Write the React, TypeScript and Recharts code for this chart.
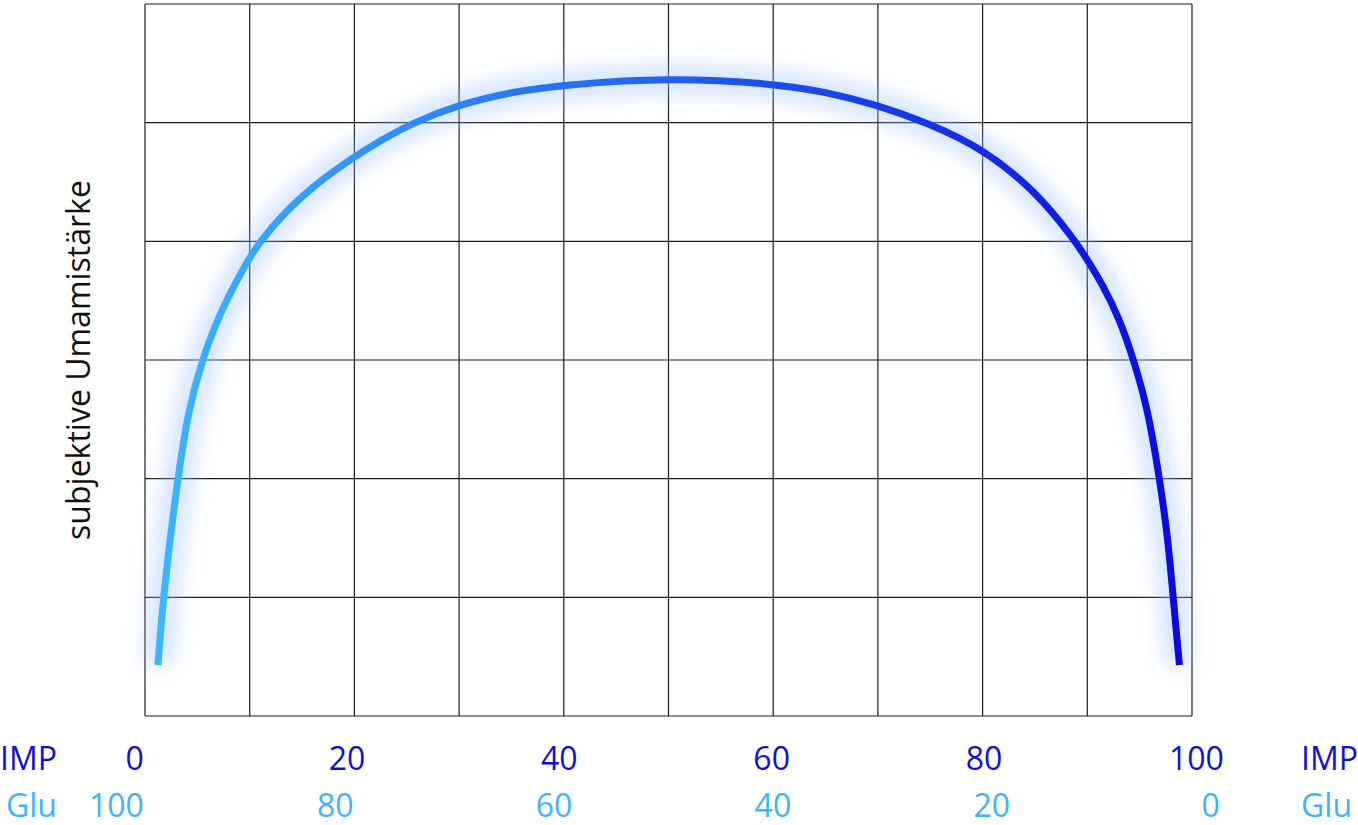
import { LineChart, Line, XAxis, YAxis, ReferenceLine } from 'recharts'

// IMP share (%) along the x axis, subjective umami strength (grid rows) along y
const IMP_PERCENT = [1.24, 1.72, 3.09, 4.14, 5.48, 7.16, 9.55, 10.82, 13.37, 16.55, 19.96, 22.3, 25.6, 29.9, 35.0, 40.1, 50, 60, 65, 69.9, 74.7, 80.1, 85.2, 88.7, 89.9, 91.5, 93.1, 94.4, 95.8, 96.9, 97.7, 98.2, 98.8]
const UMAMI = [0.43, 1.0, 1.99, 2.58, 3.01, 3.4, 3.8, 3.98, 4.25, 4.5, 4.71, 4.84, 5.0, 5.15, 5.26, 5.32, 5.38, 5.33, 5.26, 5.15, 5.0, 4.78, 4.41, 4.02, 3.86, 3.63, 3.34, 3.01, 2.58, 2.0, 1.5, 1.0, 0.43]

const IMP_TICKS = [0, 20, 40, 60, 80, 100]
const GLU_TICKS = [100, 80, 60, 40, 20, 0]
const GRID_X = [0, 10, 20, 30, 40, 50, 60, 70, 80, 90, 100]
const GRID_Y = [0, 1, 2, 3, 4, 5, 6]

const data = IMP_PERCENT.map((imp, i) => ({ imp, umami: UMAMI[i] }))

const FONT = '"Open Sans", "Noto Sans", sans-serif'
const DARK = '#0f0fdc'
const LIGHT = '#3db4ff'
const PLOT_CX = 668.5

function BottomTick(props: any) {
  const { x, y, index } = props
  const impX = PLOT_CX + (x - PLOT_CX) * 1.014 - 3
  const gluX = PLOT_CX + (x - PLOT_CX) * 1.045 - 5
  return (
    <g>
      <text x={impX} y={y + 54} textAnchor="middle" fontSize={32} fill={DARK} fontFamily={FONT}>
        {IMP_TICKS[index]}
      </text>
      <text x={gluX} y={y + 101} textAnchor="middle" fontSize={32} fill={LIGHT} fontFamily={FONT}>
        {GLU_TICKS[index]}
      </text>
    </g>
  )
}

const sideLabel = (color: string, top: number, side: 'left' | 'right', pos: number) => ({
  position: 'absolute' as const,
  top,
  [side]: pos,
  color,
  fontSize: 32,
  fontFamily: FONT,
  lineHeight: '32px',
})

export default function App() {
  return (
    <div style={{ position: 'absolute', left: 0, top: 0, width: 1358, height: 825, background: '#fff', overflow: 'hidden' }}>
      <LineChart width={1358} height={825} data={data} margin={{ top: 4, right: 166, left: 145, bottom: 0 }}>
        <defs>
          <linearGradient id="curveGrad" x1="0" y1="0" x2="1" y2="0">
            <stop offset="0%" stopColor="#3cb6ff" />
            <stop offset="50%" stopColor="#2160ee" />
            <stop offset="100%" stopColor="#0a0ade" />
          </linearGradient>
          <filter id="glow" x="-20%" y="-20%" width="140%" height="140%">
            <feGaussianBlur stdDeviation="10" />
          </filter>
        </defs>
        <XAxis
          dataKey="imp"
          type="number"
          domain={[0, 100]}
          ticks={IMP_TICKS}
          height={109}
          tickSize={0}
          tickMargin={0}
          axisLine={false}
          tickLine={false}
          tick={<BottomTick />}
          interval={0}
        />
        <YAxis type="number" domain={[0, 6]} hide />
        {GRID_X.map(v => (
          <ReferenceLine key={'x' + v} x={v} stroke="#1c1c1c" strokeWidth={1.2} />
        ))}
        {GRID_Y.map(v => (
          <ReferenceLine key={'y' + v} y={v} stroke="#1c1c1c" strokeWidth={1.2} />
        ))}
        <Line
          type="basis"
          dataKey="umami"
          stroke="#9cc2ff"
          strokeWidth={28}
          strokeOpacity={0.45}
          dot={false}
          activeDot={false}
          filter="url(#glow)"
          isAnimationActive={false}
        />
        <Line
          type="basis"
          dataKey="umami"
          stroke="url(#curveGrad)"
          strokeWidth={7}
          dot={false}
          activeDot={false}
          isAnimationActive={false}
        />
      </LineChart>

      <div style={sideLabel(DARK, 742, 'left', 0)}>IMP</div>
      <div style={sideLabel(LIGHT, 789, 'left', 6)}>Glu</div>
      <div style={sideLabel(DARK, 742, 'right', 0)}>IMP</div>
      <div style={sideLabel(LIGHT, 789, 'right', 6)}>Glu</div>

      <div
        style={{
          position: 'absolute',
          left: 78,
          top: 360,
          transform: 'translate(-50%, -50%) rotate(-90deg)',
          whiteSpace: 'nowrap',
          fontSize: 32,
          fontFamily: FONT,
          color: '#111',
          lineHeight: '32px',
        }}
      >
        subjektive Umamistärke
      </div>
    </div>
  )
}
